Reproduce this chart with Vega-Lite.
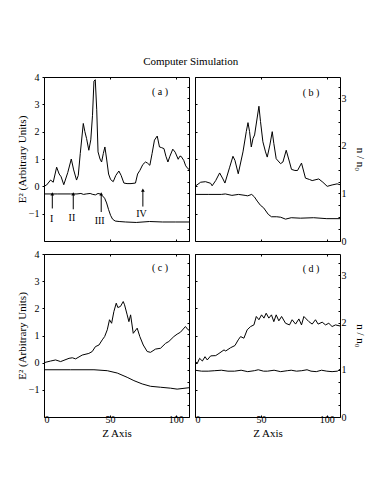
{
  "$schema": "https://vega.github.io/schema/vega-lite/v6.json",
  "padding": {"left": 15, "top": 55, "right": 2, "bottom": 2},
  "background": "white",
  "title": {"text": "Computer Simulation", "font": "Liberation Serif", "fontSize": 11, "fontWeight": "normal", "color": "black", "anchor": "middle", "offset": 5},
  "config": {
    "view": {"stroke": "black", "strokeWidth": 1},
    "axis": {"domain": false, "grid": false, "tickColor": "black", "labelColor": "black", "titleColor": "black", "labelFont": "Liberation Serif", "titleFont": "Liberation Serif", "labelFontSize": 10, "titleFontSize": 11, "titleFontWeight": "normal", "tickSize": 2, "labelPadding": 3},
    "line": {"color": "black", "strokeWidth": 1},
    "text": {"font": "Liberation Serif", "fontSize": 10, "color": "black"}
  },
  "datasets": {
    "aE": [{"z":0,"v":0},{"z":2,"v":0.05},{"z":5,"v":0.23},{"z":7,"v":0.15},{"z":9.6,"v":0.7},{"z":11.5,"v":0.45},{"z":13,"v":0.35},{"z":15,"v":0.06},{"z":18,"v":0.5},{"z":20.7,"v":1.0},{"z":22.5,"v":0.6},{"z":24.7,"v":0.23},{"z":26,"v":0.4},{"z":27.5,"v":1.2},{"z":29.8,"v":2.3},{"z":31,"v":2.0},{"z":32.3,"v":1.75},{"z":34,"v":1.32},{"z":35.5,"v":1.7},{"z":36.8,"v":2.6},{"z":37.9,"v":3.85},{"z":38.9,"v":3.9},{"z":40,"v":2.8},{"z":41,"v":1.26},{"z":42.5,"v":1.0},{"z":43.7,"v":0.89},{"z":45,"v":1.2},{"z":46.2,"v":1.44},{"z":47.5,"v":1.0},{"z":49,"v":0.45},{"z":50.5,"v":0.25},{"z":52.5,"v":0.17},{"z":54.5,"v":0.4},{"z":56.8,"v":0.56},{"z":58.5,"v":0.4},{"z":60.6,"v":0.12},{"z":63,"v":0.1},{"z":66,"v":0.1},{"z":69.4,"v":0.12},{"z":71,"v":0.45},{"z":72.7,"v":0.58},{"z":75,"v":0.8},{"z":77,"v":0.89},{"z":78.5,"v":0.85},{"z":80.3,"v":0.77},{"z":82,"v":1.2},{"z":83.8,"v":1.69},{"z":85.9,"v":1.84},{"z":87.6,"v":1.44},{"z":89,"v":1.42},{"z":91,"v":1.38},{"z":92.5,"v":1.1},{"z":94,"v":0.89},{"z":95.5,"v":1.1},{"z":97.7,"v":1.36},{"z":99.5,"v":1.25},{"z":101.8,"v":0.99},{"z":103,"v":1.1},{"z":104,"v":1.1},{"z":106,"v":0.95},{"z":107.5,"v":0.75},{"z":109.3,"v":0.64},{"z":110,"v":0.62}],
    "an": [{"z":0,"v":0.99},{"z":10,"v":0.99},{"z":20,"v":0.99},{"z":25,"v":0.99},{"z":28,"v":1.0},{"z":30,"v":0.98},{"z":32,"v":0.99},{"z":35,"v":1.0},{"z":37,"v":0.98},{"z":39,"v":0.97},{"z":41,"v":1.0},{"z":42.5,"v":0.99},{"z":44,"v":0.96},{"z":46,"v":0.9},{"z":47.5,"v":0.8},{"z":49,"v":0.66},{"z":50.5,"v":0.54},{"z":52,"v":0.46},{"z":54,"v":0.42},{"z":57,"v":0.41},{"z":62,"v":0.4},{"z":70,"v":0.39},{"z":80,"v":0.41},{"z":90,"v":0.4},{"z":100,"v":0.4},{"z":110,"v":0.4}],
    "bE": [{"z":0,"v":0},{"z":4.3,"v":0.15},{"z":8,"v":0.17},{"z":11.9,"v":0.11},{"z":13,"v":0.02},{"z":15.7,"v":0.21},{"z":18.7,"v":0.49},{"z":21.2,"v":0.27},{"z":22.7,"v":0.12},{"z":26.3,"v":0.7},{"z":28.8,"v":1.1},{"z":30.3,"v":0.95},{"z":32.8,"v":0.46},{"z":36.4,"v":1.26},{"z":38.9,"v":2.0},{"z":40.2,"v":2.33},{"z":41.4,"v":2.0},{"z":42.7,"v":1.44},{"z":44,"v":1.75},{"z":45.2,"v":1.88},{"z":48.5,"v":2.93},{"z":49.7,"v":2.37},{"z":51.5,"v":1.63},{"z":53.5,"v":1.26},{"z":54.8,"v":1.07},{"z":56.8,"v":1.51},{"z":58.6,"v":2.0},{"z":59.8,"v":1.57},{"z":61.6,"v":1.01},{"z":64.9,"v":0.83},{"z":66.7,"v":0.89},{"z":69.2,"v":1.32},{"z":71.7,"v":0.89},{"z":73.2,"v":0.62},{"z":75.8,"v":0.58},{"z":77.8,"v":0.58},{"z":80.8,"v":0.85},{"z":83.8,"v":0.3},{"z":86.9,"v":0.25},{"z":88.9,"v":0.21},{"z":93.9,"v":0.27},{"z":97,"v":0.15},{"z":100.3,"v":0.0},{"z":104,"v":0.05},{"z":107.8,"v":0.09},{"z":110,"v":0.06}],
    "bn": [{"z":0,"v":0.98},{"z":10,"v":0.98},{"z":20,"v":0.98},{"z":23,"v":0.99},{"z":28,"v":0.96},{"z":33,"v":0.98},{"z":38,"v":0.96},{"z":40,"v":0.95},{"z":43,"v":0.98},{"z":45,"v":0.93},{"z":47.2,"v":0.84},{"z":49.7,"v":0.75},{"z":52,"v":0.7},{"z":55.6,"v":0.56},{"z":58,"v":0.51},{"z":62,"v":0.51},{"z":65,"v":0.5},{"z":68.7,"v":0.46},{"z":73,"v":0.49},{"z":80,"v":0.48},{"z":90,"v":0.49},{"z":100,"v":0.47},{"z":110,"v":0.47}],
    "cE": [{"z":0,"v":0},{"z":5,"v":0.06},{"z":8.8,"v":0.1},{"z":12.6,"v":0.04},{"z":19,"v":0.16},{"z":21.5,"v":0.18},{"z":24,"v":0.14},{"z":29,"v":0.28},{"z":34,"v":0.34},{"z":36.6,"v":0.41},{"z":39,"v":0.59},{"z":41.7,"v":0.65},{"z":44.2,"v":0.84},{"z":46,"v":0.96},{"z":48,"v":1.21},{"z":49.7,"v":1.58},{"z":51.3,"v":1.45},{"z":53,"v":1.88},{"z":54.8,"v":2.19},{"z":56,"v":2.03},{"z":58,"v":2.07},{"z":60.1,"v":2.25},{"z":61.1,"v":2.13},{"z":63.1,"v":1.76},{"z":64.4,"v":1.51},{"z":65.7,"v":1.76},{"z":67.7,"v":1.08},{"z":70.7,"v":1.27},{"z":72.7,"v":0.96},{"z":75.3,"v":0.65},{"z":78.3,"v":0.41},{"z":80.8,"v":0.38},{"z":84.6,"v":0.5},{"z":88.4,"v":0.53},{"z":92.2,"v":0.71},{"z":94.7,"v":0.78},{"z":98.5,"v":0.96},{"z":101,"v":1.05},{"z":103.5,"v":1.12},{"z":107.3,"v":1.33},{"z":109.3,"v":1.21},{"z":110,"v":1.2}],
    "cn": [{"z":0,"v":1.0},{"z":20,"v":1.0},{"z":37.9,"v":1.0},{"z":48,"v":0.98},{"z":55.6,"v":0.93},{"z":63.1,"v":0.84},{"z":68.2,"v":0.77},{"z":74.5,"v":0.7},{"z":80.8,"v":0.65},{"z":88.4,"v":0.63},{"z":96,"v":0.61},{"z":101,"v":0.59},{"z":110,"v":0.62}],
    "dE": [{"z":0,"v":0.04},{"z":1.8,"v":-0.02},{"z":3.5,"v":0.16},{"z":5.6,"v":0.06},{"z":7.6,"v":0.22},{"z":9.3,"v":0.1},{"z":11.9,"v":0.25},{"z":15.7,"v":0.26},{"z":18.2,"v":0.34},{"z":22,"v":0.47},{"z":23.3,"v":0.43},{"z":27,"v":0.55},{"z":30.3,"v":0.63},{"z":32.8,"v":0.84},{"z":34.6,"v":0.96},{"z":37.1,"v":0.9},{"z":39.6,"v":1.21},{"z":42.2,"v":1.33},{"z":44.7,"v":1.39},{"z":46.5,"v":1.7},{"z":48.5,"v":1.58},{"z":50.5,"v":1.76},{"z":52.3,"v":1.64},{"z":54,"v":1.82},{"z":56,"v":1.64},{"z":58,"v":1.76},{"z":59.8,"v":1.51},{"z":61.6,"v":1.76},{"z":63.6,"v":1.54},{"z":65.7,"v":1.7},{"z":68.7,"v":1.45},{"z":71.7,"v":1.39},{"z":73.7,"v":1.58},{"z":76.3,"v":1.42},{"z":78.8,"v":1.61},{"z":80.8,"v":1.39},{"z":82.6,"v":1.7},{"z":84.4,"v":1.61},{"z":86.4,"v":1.51},{"z":88.9,"v":1.42},{"z":91.4,"v":1.58},{"z":93.4,"v":1.42},{"z":96.5,"v":1.49},{"z":99,"v":1.39},{"z":101.5,"v":1.45},{"z":104,"v":1.33},{"z":106.6,"v":1.39},{"z":110,"v":1.35}],
    "dn": [{"z":0,"v":0.99},{"z":5,"v":0.97},{"z":10,"v":0.97},{"z":15,"v":0.98},{"z":20,"v":0.99},{"z":25,"v":0.97},{"z":30,"v":0.97},{"z":35,"v":0.99},{"z":40,"v":0.96},{"z":45,"v":0.98},{"z":48,"v":1.0},{"z":52,"v":0.97},{"z":55,"v":0.97},{"z":60,"v":0.99},{"z":65,"v":0.96},{"z":70,"v":0.98},{"z":73,"v":0.99},{"z":77,"v":0.97},{"z":81,"v":0.98},{"z":85,"v":1.0},{"z":88,"v":0.97},{"z":92,"v":0.96},{"z":96,"v":0.99},{"z":100,"v":0.97},{"z":104,"v":0.96},{"z":108,"v":0.97},{"z":110,"v":1.01}],
    "arrows": [{"z":6.3,"top":-0.28,"bot":-0.81,"lab":"I","ly":-1.21,"lz":5.8},{"z":22.2,"top":-0.28,"bot":-0.84,"lab":"II","ly":-1.17,"lz":21.2},{"z":43.4,"top":-0.28,"bot":-0.94,"lab":"III","ly":-1.25,"lz":42.2},{"z":75,"top":-0.14,"bot":-0.74,"lab":"IV","ly":-1.0,"lz":74}],
    "labels": [{"p":"a","t":"( a )","z":88,"v":3.45},{"p":"b","t":"( b )","z":88,"v":3.4},{"p":"c","t":"( c )","z":88,"v":3.47},{"p":"d","t":"( d )","z":88,"v":3.43}]
  },
  "vconcat": [
    {
      "hconcat": [
        {
          "width": 145, "height": 164,
          "layer": [
            {"data": {"name": "aE"}, "mark": "line", "encoding": {
              "x": {"field": "z", "type": "quantitative", "scale": {"domain": [0, 110], "nice": false, "zero": false}, "axis": {"values": [0, 50, 100], "labels": false, "title": null, "tickSize": -2}},
              "y": {"field": "v", "type": "quantitative", "scale": {"domain": [-2, 4], "nice": false, "zero": false}, "axis": {"values": [-1, 0, 1, 2, 3, 4], "title": "E² (Arbitrary Units)", "titlePadding": 1}}}},
            {"data": {"name": "an"}, "mark": "line", "encoding": {
              "x": {"field": "z", "type": "quantitative", "scale": {"domain": [0, 110], "nice": false, "zero": false}, "axis": {"orient": "top", "values": [0, 50, 100], "labels": false, "title": null, "tickSize": -2}},
              "y": {"field": "v", "type": "quantitative", "scale": {"domain": [0, 3.45], "nice": false, "zero": false}, "axis": {"orient": "right", "values": [0,0.25,0.5,0.75,1,1.25,1.5,1.75,2,2.25,2.5,2.75,3,3.25], "labels": false, "title": null, "tickSize": -2}}}},
            {"data": {"name": "labels"}, "transform": [{"filter": "datum.p == 'a'"}], "mark": {"type": "text", "align": "center", "baseline": "middle", "color": "black"}, "encoding": {
              "x": {"field": "z", "type": "quantitative", "scale": {"domain": [0, 110], "nice": false, "zero": false}, "axis": null},
              "y": {"field": "v", "type": "quantitative", "scale": {"domain": [-2, 4], "nice": false, "zero": false}, "axis": null},
              "text": {"field": "t"}}},
            {"data": {"name": "arrows"}, "mark": {"type": "rule", "color": "black", "strokeWidth": 1}, "encoding": {
              "x": {"field": "z", "type": "quantitative", "scale": {"domain": [0, 110], "nice": false, "zero": false}, "axis": null},
              "y": {"field": "top", "type": "quantitative", "scale": {"domain": [-2, 4], "nice": false, "zero": false}, "axis": null},
              "y2": {"field": "bot"}}},
            {"data": {"name": "arrows"}, "mark": {"type": "point", "shape": "triangle-up", "filled": true, "color": "black", "size": 14, "opacity": 1}, "encoding": {
              "x": {"field": "z", "type": "quantitative", "scale": {"domain": [0, 110], "nice": false, "zero": false}, "axis": null},
              "y": {"field": "top", "type": "quantitative", "scale": {"domain": [-2, 4], "nice": false, "zero": false}, "axis": null}}},
            {"data": {"name": "arrows"}, "mark": {"type": "text", "align": "center", "baseline": "middle", "color": "black"}, "encoding": {
              "x": {"field": "lz", "type": "quantitative", "scale": {"domain": [0, 110], "nice": false, "zero": false}, "axis": null},
              "y": {"field": "ly", "type": "quantitative", "scale": {"domain": [-2, 4], "nice": false, "zero": false}, "axis": null},
              "text": {"field": "lab"}}}
          ],
          "resolve": {"scale": {"y": "independent"}, "axis": {"x": "independent", "y": "independent"}}
        },
        {
          "width": 145, "height": 164,
          "layer": [
            {"data": {"name": "bE"}, "mark": "line", "encoding": {
              "x": {"field": "z", "type": "quantitative", "scale": {"domain": [0, 110], "nice": false, "zero": false}, "axis": {"values": [0, 50, 100], "labels": false, "title": null, "tickSize": -2}},
              "y": {"field": "v", "type": "quantitative", "scale": {"domain": [-2, 4], "nice": false, "zero": false}, "axis": {"values": [-1, 0, 1, 2, 3, 4], "labels": false, "title": null, "tickSize": -2}}}},
            {"data": {"name": "bn"}, "mark": "line", "encoding": {
              "x": {"field": "z", "type": "quantitative", "scale": {"domain": [0, 110], "nice": false, "zero": false}, "axis": {"orient": "top", "values": [0, 50, 100], "labels": false, "title": null, "tickSize": -2}},
              "y": {"field": "v", "type": "quantitative", "scale": {"domain": [0, 3.45], "nice": false, "zero": false}, "axis": {"orient": "right", "values": [0,0.25,0.5,0.75,1,1.25,1.5,1.75,2,2.25,2.5,2.75,3,3.25], "format": ".0f", "labelExpr": "datum.value % 1 == 0 ? datum.label : ''", "title": "n / n₀", "tickSize": -2, "labelPadding": 3, "titlePadding": 8}}}},
            {"data": {"name": "labels"}, "transform": [{"filter": "datum.p == 'b'"}], "mark": {"type": "text", "align": "center", "baseline": "middle", "color": "black"}, "encoding": {
              "x": {"field": "z", "type": "quantitative", "scale": {"domain": [0, 110], "nice": false, "zero": false}, "axis": null},
              "y": {"field": "v", "type": "quantitative", "scale": {"domain": [-2, 4], "nice": false, "zero": false}, "axis": null},
              "text": {"field": "t"}}}
          ],
          "resolve": {"scale": {"y": "independent"}, "axis": {"x": "independent", "y": "independent"}}
        }
      ],
      "spacing": 0
    },
    {
      "hconcat": [
        {
          "width": 145, "height": 163,
          "layer": [
            {"data": {"name": "cE"}, "mark": "line", "encoding": {
              "x": {"field": "z", "type": "quantitative", "scale": {"domain": [0, 110], "nice": false, "zero": false}, "axis": {"values": [0, 50, 100], "title": "Z  Axis", "tickSize": -2, "labelPadding": -1, "titlePadding": 3}},
              "y": {"field": "v", "type": "quantitative", "scale": {"domain": [-2, 4], "nice": false, "zero": false}, "axis": {"values": [-1, 0, 1, 2, 3, 4], "title": "E² (Arbitrary Units)", "titlePadding": 1}}}},
            {"data": {"name": "cn"}, "mark": "line", "encoding": {
              "x": {"field": "z", "type": "quantitative", "scale": {"domain": [0, 110], "nice": false, "zero": false}, "axis": {"orient": "top", "values": [0, 50, 100], "labels": false, "title": null, "tickSize": -2}},
              "y": {"field": "v", "type": "quantitative", "scale": {"domain": [0, 3.45], "nice": false, "zero": false}, "axis": {"orient": "right", "values": [0,0.25,0.5,0.75,1,1.25,1.5,1.75,2,2.25,2.5,2.75,3,3.25], "labels": false, "title": null, "tickSize": -2}}}},
            {"data": {"name": "labels"}, "transform": [{"filter": "datum.p == 'c'"}], "mark": {"type": "text", "align": "center", "baseline": "middle", "color": "black"}, "encoding": {
              "x": {"field": "z", "type": "quantitative", "scale": {"domain": [0, 110], "nice": false, "zero": false}, "axis": null},
              "y": {"field": "v", "type": "quantitative", "scale": {"domain": [-2, 4], "nice": false, "zero": false}, "axis": null},
              "text": {"field": "t"}}}
          ],
          "resolve": {"scale": {"y": "independent"}, "axis": {"x": "independent", "y": "independent"}}
        },
        {
          "width": 145, "height": 163,
          "layer": [
            {"data": {"name": "dE"}, "mark": "line", "encoding": {
              "x": {"field": "z", "type": "quantitative", "scale": {"domain": [0, 110], "nice": false, "zero": false}, "axis": {"values": [0, 50, 100], "title": "Z  Axis", "tickSize": -2, "labelPadding": -1, "titlePadding": 3}},
              "y": {"field": "v", "type": "quantitative", "scale": {"domain": [-2, 4], "nice": false, "zero": false}, "axis": {"values": [-1, 0, 1, 2, 3, 4], "labels": false, "title": null, "tickSize": -2}}}},
            {"data": {"name": "dn"}, "mark": "line", "encoding": {
              "x": {"field": "z", "type": "quantitative", "scale": {"domain": [0, 110], "nice": false, "zero": false}, "axis": {"orient": "top", "values": [0, 50, 100], "labels": false, "title": null, "tickSize": -2}},
              "y": {"field": "v", "type": "quantitative", "scale": {"domain": [0, 3.45], "nice": false, "zero": false}, "axis": {"orient": "right", "values": [0,0.25,0.5,0.75,1,1.25,1.5,1.75,2,2.25,2.5,2.75,3,3.25], "format": ".0f", "labelExpr": "datum.value % 1 == 0 ? datum.label : ''", "title": "n / n₀", "tickSize": -2, "labelPadding": 3, "titlePadding": 8}}}},
            {"data": {"name": "labels"}, "transform": [{"filter": "datum.p == 'd'"}], "mark": {"type": "text", "align": "center", "baseline": "middle", "color": "black"}, "encoding": {
              "x": {"field": "z", "type": "quantitative", "scale": {"domain": [0, 110], "nice": false, "zero": false}, "axis": null},
              "y": {"field": "v", "type": "quantitative", "scale": {"domain": [-2, 4], "nice": false, "zero": false}, "axis": null},
              "text": {"field": "t"}}}
          ],
          "resolve": {"scale": {"y": "independent"}, "axis": {"x": "independent", "y": "independent"}}
        }
      ],
      "spacing": 0
    }
  ],
  "spacing": 1
}
